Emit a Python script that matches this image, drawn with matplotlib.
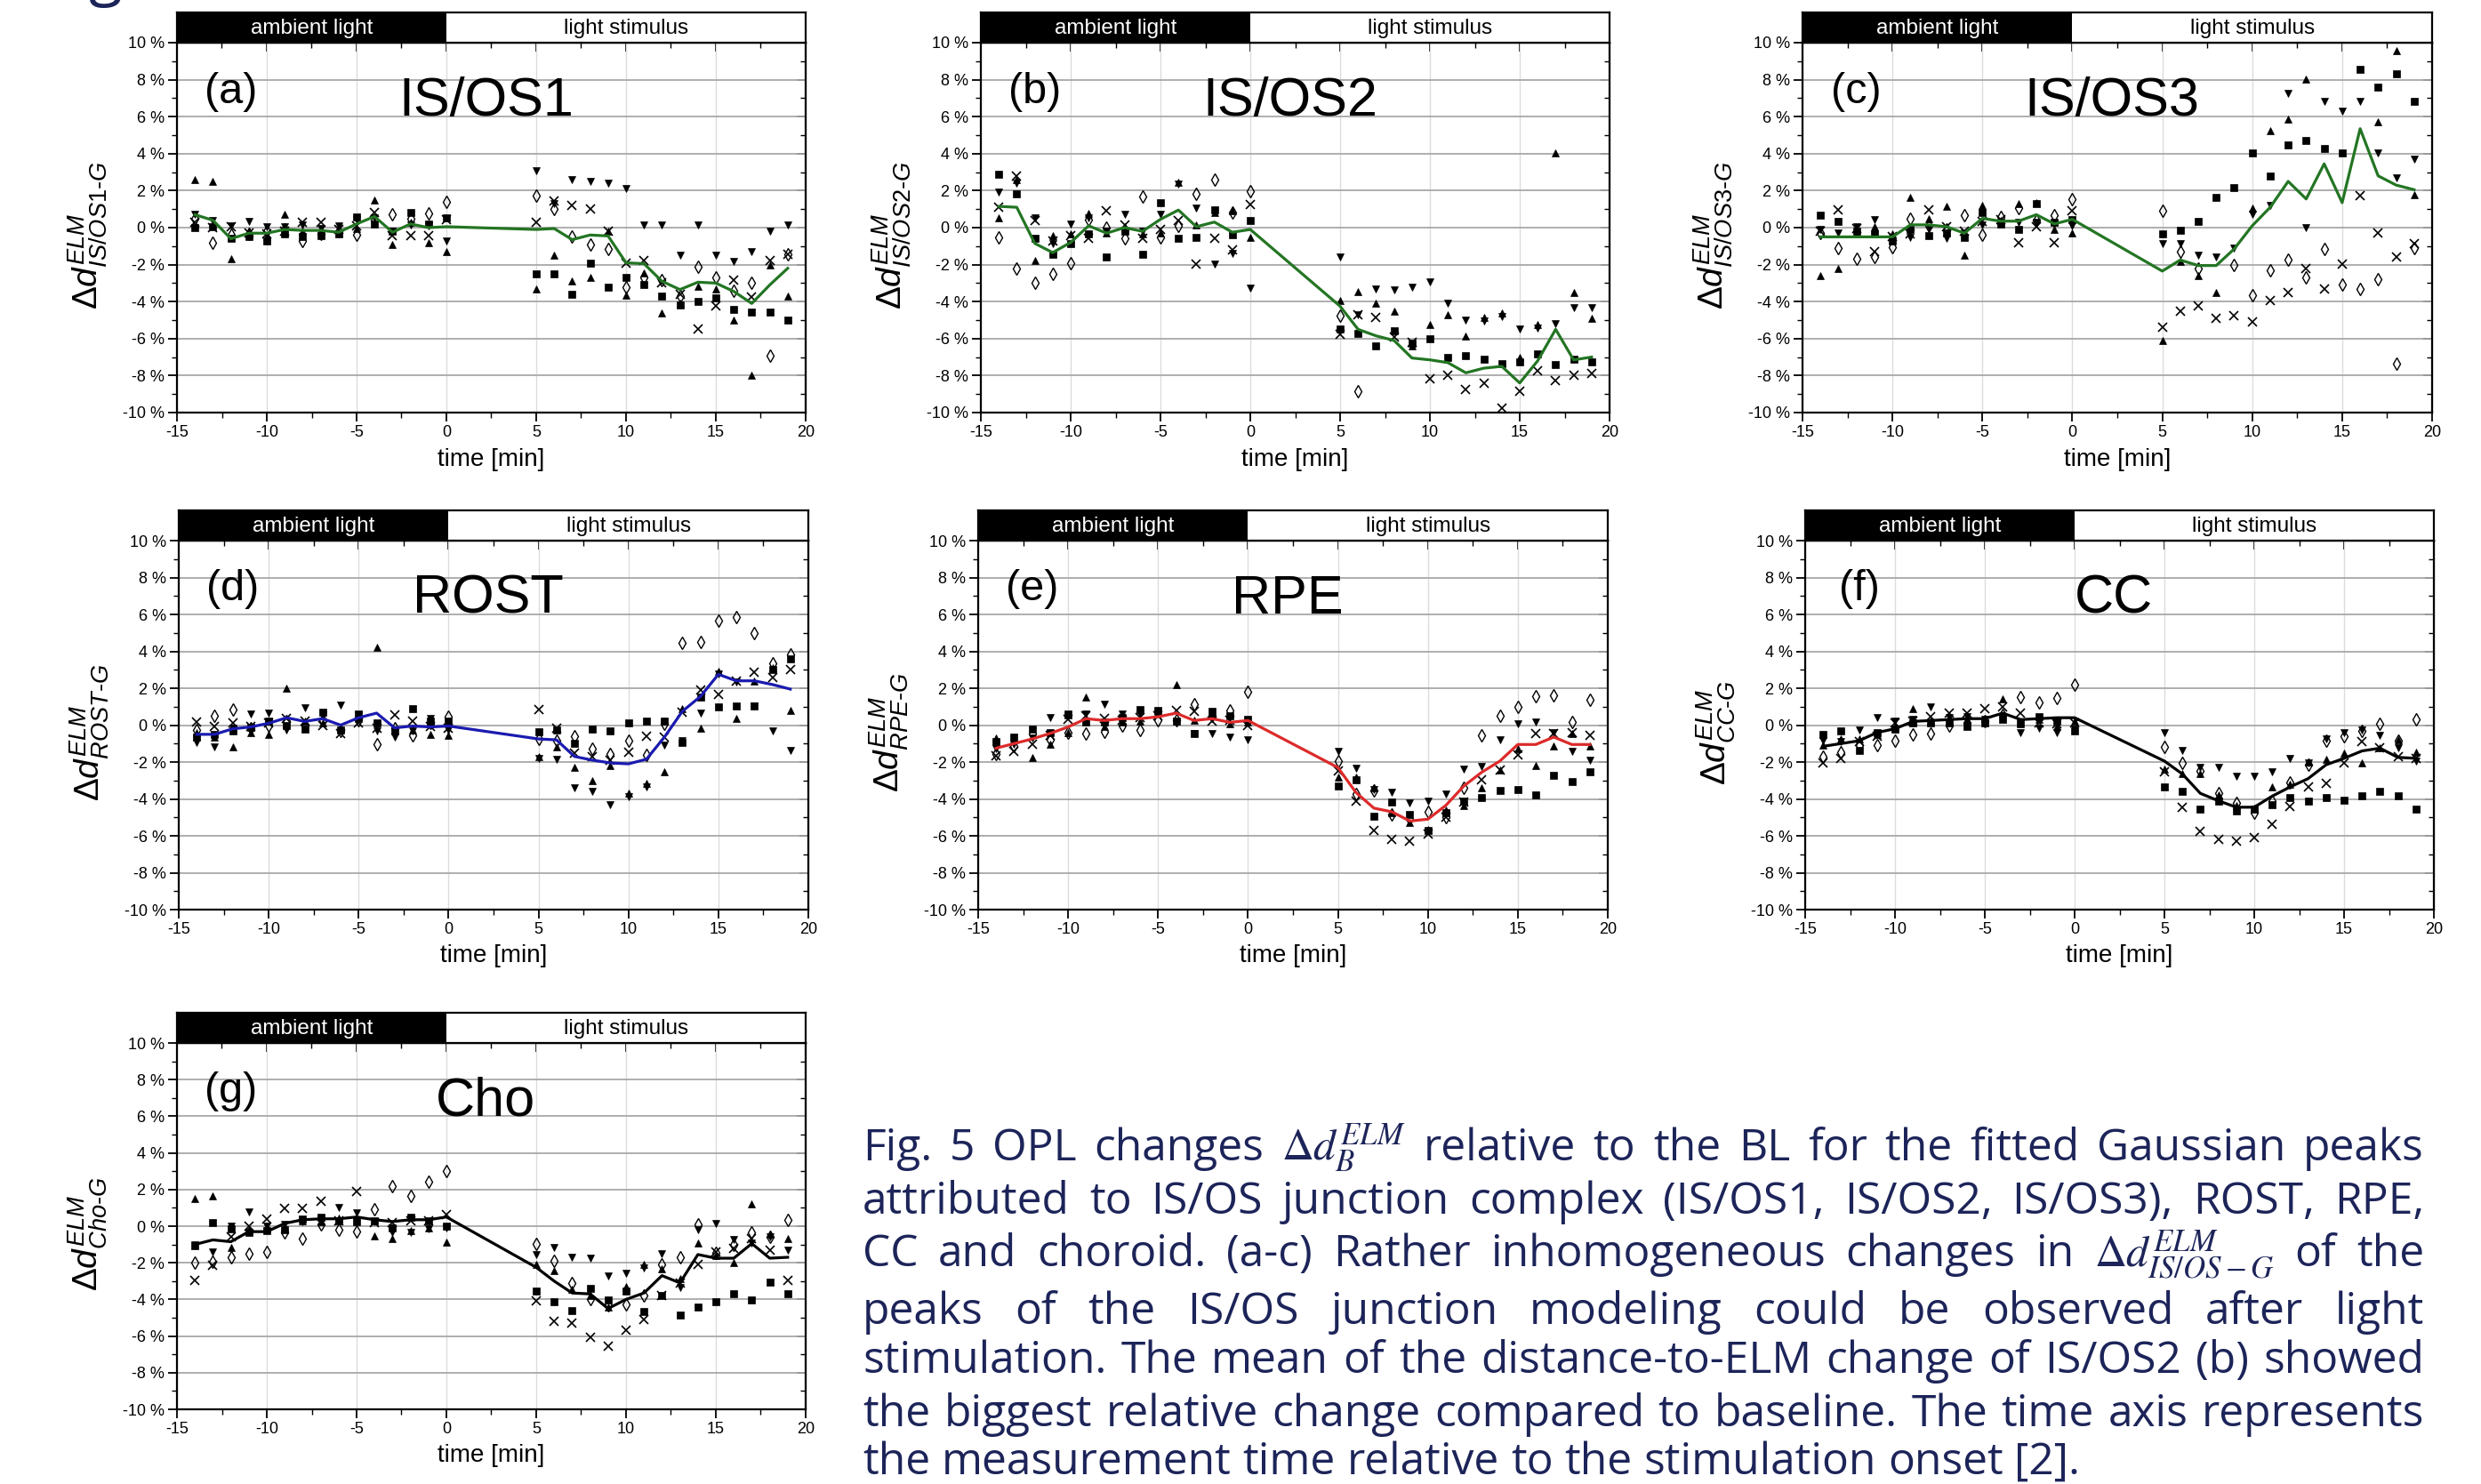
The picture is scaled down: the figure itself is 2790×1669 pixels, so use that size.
import numpy as np
import matplotlib
matplotlib.use("Agg")
import matplotlib.pyplot as plt
from matplotlib.ticker import MultipleLocator

nan = float("nan")

# ---------------- data ----------------
time_min = list(range(-14, 1)) + list(range(5, 20))
x_ticks = [-15, -10, -5, 0, 5, 10, 15, 20]
x_ticklabels = ["-15", "-10", "-5", "0", "5", "10", "15", "20"]
y_ticks = [-10, -8, -6, -4, -2, 0, 2, 4, 6, 8, 10]
y_ticklabels = [f"{v} %" for v in y_ticks]
phase_edges = [-15, 0, 20]
phase_labels = ["ambient light", "light stimulus"]

panel_letters = ["(a)", "(b)", "(c)", "(d)", "(e)", "(f)", "(g)"]
layer_names = ["IS/OS1", "IS/OS2", "IS/OS3", "ROST", "RPE", "CC", "Cho"]
layer_subs = ["IS/OS1", "IS/OS2", "IS/OS3", "ROST", "RPE", "CC", "Cho"]
mean_colors = ["#237523", "#237523", "#237523", "#1a1ab0", "#dd2a2a", "#000000", "#000000"]

# (a) IS/OS1
isos1_square = [0, 0.05, -0.6, -0.5, -0.7, -0.35, -0.5, -0.45, -0.35, 0.6, 0.2, -0.2, 0.8, 0.2, 0.55,
                -2.5, -2.5, -3.6, -1.9, -3.2, -2.7, -3.1, -3.7, -4.2, -4.0, -3.8, -4.4, -4.55, -4.55, -5.0]
isos1_up = [2.6, 2.5, -1.7, -0.2, -0.5, 0.7, -0.2, -0.2, -0.3, -0.05, 1.5, -0.9, 0.3, -0.8, -1.3,
            -3.3, -1.5, -2.9, -2.7, -0.2, -3.65, -2.45, -4.6, -4.1, -3.15, -3.3, -5.0, -8.0, -2.0, -3.7]
isos1_down = [0.7, 0.4, 0.1, 0.35, 0.05, 0.05, 0.15, -0.05, 0.1, 0.45, 0.55, -0.2, 0.15, 0.1, -0.7,
              3.1, 1.3, 2.6, 2.5, 2.4, 2.1, 0.15, 0.15, -1.5, 0.15, -1.5, -1.85, -1.3, -0.2, 0.15]
isos1_diamond = [0.5, -0.8, -0.4, -0.35, -0.2, -0.1, -0.7, -0.35, -0.2, -0.4, 0.4, 0.7, 0.5, 0.75, 1.4,
                 1.75, 1.0, -0.5, -0.9, -1.15, -3.2, -2.7, -2.85, -3.7, -2.1, -2.7, -3.4, -3.0, -6.9, -1.45]
isos1_cross = [0.3, 0.0, 0.05, -0.3, -0.35, -0.2, 0.3, 0.3, -0.1, 0.1, 0.8, -0.45, -0.45, -0.45, 0.45,
               0.3, 1.45, 1.2, 1.0, -0.2, -1.9, -1.8, -3.0, -3.6, -5.5, -4.25, -2.85, -3.75, -1.8, -1.45]
isos1_mean = [0.7, 0.4, -0.6, -0.3, -0.3, -0.1, -0.15, -0.15, -0.25, 0.2, 0.6, -0.25, 0.2, 0.0, 0.05,
              -0.1, -0.05, -0.65, -0.4, -0.45, -1.9, -1.95, -2.9, -3.35, -2.95, -3.0, -3.45, -4.1, -3.1, -2.2]

# (b) IS/OS2
isos2_square = [2.9, 1.85, -0.6, -1.45, -0.85, -0.35, -1.6, -0.2, -1.45, 1.35, -0.6, -0.55, 0.95, -0.4, 0.4,
                -5.5, -5.7, -6.4, -5.6, -6.25, -6.0, -7.0, -6.9, -7.1, -7.35, -7.25, -6.85, -7.4, -7.1, -7.25]
isos2_up = [0.55, 2.6, -1.8, -0.45, -0.35, 0.75, -0.3, 0.05, -0.35, -0.3, 2.45, 0.15, 0.8, 0.9, -0.55,
            -3.95, -3.45, -4.1, -4.5, -6.4, -5.25, -4.7, -5.85, -4.85, -4.6, -7.0, -5.25, 4.05, -3.5, -4.9]
isos2_down = [1.9, 2.4, 0.55, -0.85, 0.2, 0.55, -0.2, 0.7, -0.2, 0.7, 2.35, 1.05, -1.95, -1.4, -3.25,
              -1.6, -4.7, -3.3, -3.35, -3.2, -2.95, -4.1, -5.0, -5.05, -4.8, -5.5, -5.45, -5.2, -4.35, -4.35]
isos2_diamond = [-0.55, -2.2, -3.0, -2.5, -1.9, 0.45, 0.0, -0.6, 1.7, -0.55, 0.1, 1.85, 2.6, 0.8, 1.95,
                 -4.75, -8.85, nan, nan, nan, nan, nan, nan, nan, nan, nan, nan, nan, nan, nan]
isos2_cross = [1.1, 2.8, 0.4, -0.7, -0.45, -0.6, 0.9, 0.15, -0.6, -0.1, 0.4, -1.95, -0.6, -1.2, 1.25,
               -5.75, -4.7, -4.85, -5.9, -6.2, -8.15, -8.0, -8.75, -8.4, -9.75, -8.85, -7.75, -8.25, -8.0, -7.9]
isos2_mean = [1.15, 1.1, -0.85, -1.35, -0.8, 0.1, -0.3, 0.0, -0.2, 0.45, 0.95, 0.05, 0.3, -0.25, -0.1,
              -4.25, -5.5, -5.85, -6.1, -7.05, -7.15, -7.3, -7.85, -7.6, -7.5, -8.4, -7.2, -5.5, -7.15, -7.0]

# (c) IS/OS3
isos3_square = [0.65, 0.35, -0.2, -0.35, -0.7, -0.1, -0.45, -0.3, -0.55, 0.8, 0.2, -0.1, 1.3, 0.3, 0.45,
                -0.35, -0.15, 0.35, 1.65, 2.15, 4.05, 2.8, 4.45, 4.7, 4.3, 4.05, 8.55, 7.6, 8.3, 6.85]
isos3_up = [-2.6, -2.2, -0.35, 0.05, -0.35, 1.65, 0.5, 1.15, -1.5, 1.2, 0.4, 1.3, 1.35, -0.1, -0.3,
            -6.1, -1.85, -2.6, -3.5, nan, 1.05, 5.25, 5.85, 8.05, nan, nan, nan, 5.7, 9.55, 1.8]
isos3_down = [-0.1, -0.3, 0.05, 0.45, -0.55, -0.55, 0.0, -0.6, -0.3, 0.15, 0.3, 0.3, 0.3, 0.2, 0.1,
              -0.85, -0.85, -1.5, -1.6, -1.1, 0.7, 1.2, 7.25, 0.0, 6.85, 6.3, 6.85, 4.05, 2.7, 3.7]
isos3_diamond = [-0.3, -1.1, -1.7, -1.6, -1.05, 0.5, 0.1, -0.1, 0.65, -0.4, 0.6, 1.05, 0.4, 0.65, 1.55,
                 0.9, -1.3, -2.2, nan, -2.0, -3.65, -2.3, -1.75, -2.7, -1.15, -3.1, -3.3, -2.8, -7.35, -1.1]
isos3_cross = [-0.2, 0.95, -0.05, -1.3, -0.5, -0.35, 0.95, 0.05, -0.2, 0.35, 0.45, -0.8, 0.05, -0.8, 0.9,
               -5.4, -4.5, -4.25, -4.9, -4.75, -5.1, -3.95, -3.5, -2.2, -3.3, -1.95, 1.75, -0.3, -1.6, -0.85]
isos3_mean = [-0.5, -0.5, -0.5, -0.5, -0.5, 0.15, 0.15, 0.05, -0.3, 0.5, 0.35, 0.35, 0.7, 0.2, 0.45,
              -2.35, -1.75, -2.05, -2.05, -1.15, 0.1, 1.1, 2.5, 1.55, 3.45, 1.35, 5.35, 2.8, 2.3, 2.05]

# (d) ROST
rost_square = [-0.65, -0.5, -0.3, -0.1, 0.2, 0.0, -0.2, 0.7, -0.25, 0.6, 0.1, -0.3, 0.9, 0.2, 0.2,
               -0.35, -0.25, -1.0, -0.2, -0.3, 0.1, 0.2, 0.2, -0.95, 1.5, 1.0, 1.05, 1.05, 3.0, 3.6]
rost_up = [-0.4, -0.65, -1.2, -0.4, -0.5, 2.0, 0.2, 0.1, -0.1, 0.35, 4.2, -0.25, -0.25, -0.5, -0.55,
           -1.7, -1.2, -2.3, -3.0, -2.2, -3.7, -3.15, -2.55, 0.9, -0.15, 2.9, 0.35, 2.4, 3.1, 0.8]
rost_down = [-0.95, -1.2, -0.15, 0.6, 0.65, -0.25, 0.95, 0.55, 1.1, 0.55, -0.3, -0.65, -0.3, 0.35, -0.25,
             -1.8, -1.85, -3.4, -3.6, -4.3, -3.9, -3.35, -1.1, -0.85, 0.65, 2.75, 2.35, 1.05, -0.3, -1.35]
rost_diamond = [-0.25, 0.5, 0.85, -0.15, 0.0, 0.2, 0.0, 0.25, -0.3, 0.25, -1.05, -0.15, -0.55, 0.1, 0.45,
                -0.75, -0.85, -0.6, -1.3, -1.55, -0.85, -1.6, 0.05, 4.45, 4.5, 5.65, 5.85, 5.0, 3.35, 3.85]
rost_cross = [0.15, -0.05, 0.1, -0.05, 0.1, 0.35, 0.2, 0.0, -0.45, 0.1, -0.15, 0.55, 0.2, -0.05, -0.15,
              0.85, -0.15, -1.5, -1.7, -1.9, -1.45, -0.6, -0.65, 0.7, 1.9, 1.65, 2.4, 2.85, 2.6, 3.0]
rost_mean = [-0.5, -0.5, -0.2, -0.1, 0.1, 0.4, 0.2, 0.35, 0.0, 0.4, 0.65, -0.15, -0.05, -0.1, -0.05,
             -0.75, -0.8, -1.7, -1.9, -2.05, -2.1, -1.85, -0.65, 0.75, 1.55, 2.75, 2.4, 2.4, 2.2, 1.95]

# (e) RPE
rpe_square = [-0.9, -0.65, -0.2, -0.4, 0.55, 0.15, 0.15, 0.4, 0.85, 0.8, 0.2, -0.45, 0.75, 0.5, 0.3,
              -3.3, -2.95, -4.95, -4.15, -4.85, -5.7, -4.75, -4.1, -3.95, -3.55, -3.5, -3.8, -2.7, -3.05, -2.55]
rpe_up = [-0.7, -0.8, -1.75, -1.05, -0.4, 1.5, -0.05, 0.15, 0.2, 0.75, 2.2, 0.25, 0.6, 0.05, 0.15,
          -2.8, -2.8, -3.4, -4.75, -5.3, -5.65, -4.6, -4.35, -3.4, -2.45, -1.3, -2.2, -1.15, -0.45, -1.15]
rpe_down = [-1.3, -1.05, -0.7, 0.4, 0.6, 0.6, 1.15, 0.6, 0.6, 0.65, 0.15, -0.45, -0.45, -0.65, -0.8,
            -1.4, -2.35, -3.5, -3.65, -4.2, -4.1, -3.75, -2.4, -2.25, -0.8, 0.05, 0.15, -0.4, -1.4, -1.9]
rpe_diamond = [-1.55, -1.15, -0.45, -0.8, -0.4, -0.45, -0.35, 0.0, -0.25, 0.25, 0.25, 1.15, 0.5, 0.8, 1.8,
               -1.95, -3.75, -3.55, -4.85, -5.1, -4.7, -5.0, -3.4, -0.55, 0.5, 1.0, 1.55, 1.6, 0.15, 1.35]
rpe_cross = [-1.65, -1.4, -1.05, -0.55, 0.3, 0.5, 0.35, 0.25, 0.4, 0.5, 0.8, 0.75, 0.2, 0.25, 0.0,
             -2.5, -4.1, -5.7, -6.2, -6.3, -5.9, -5.0, -4.15, -2.95, -2.45, -1.6, -0.45, -0.45, -0.4, -0.55]
rpe_mean = [-1.25, -1.0, -0.75, -0.45, -0.1, 0.35, 0.25, 0.35, 0.35, 0.45, 0.65, 0.25, 0.35, 0.15, 0.25,
            -2.3, -3.65, -4.5, -4.7, -5.2, -5.1, -4.35, -3.3, -2.55, -1.95, -1.05, -1.05, -0.65, -1.05, -1.05]

# (f) CC
cc_square = [-0.5, -0.3, -1.35, -0.4, -0.2, 0.1, 0.1, 0.1, -0.05, 0.1, 0.3, 0.1, 0.45, 0.2, -0.3,
             -3.35, -3.6, -4.55, -4.1, -4.65, -4.55, -4.3, -3.95, -4.1, -3.95, -4.05, -3.85, -3.6, -3.85, -4.55]
cc_up = [-1.1, -0.75, -0.75, -0.5, -0.05, 0.9, 0.2, 0.2, 0.3, 0.35, 1.4, 0.05, 0.3, -0.05, 0.2,
         -2.4, -2.65, -2.65, -3.8, -4.35, -4.5, -3.35, -3.2, -2.0, -1.85, -1.5, -2.05, -1.25, -0.8, -1.45]
cc_down = [-0.85, -0.9, -0.25, 0.4, 0.2, 0.3, 1.0, 0.4, 0.45, 0.3, 0.45, -0.4, -0.15, -0.4, -0.2,
           -0.4, -1.35, -2.3, -2.3, -2.75, -2.75, -2.55, -1.8, -2.05, -0.75, -0.4, -0.25, -0.55, -1.25, -1.95]
cc_diamond = [-1.7, -1.45, -1.1, -1.1, -0.85, -0.5, -0.45, 0.0, 0.1, 0.2, 0.55, 1.5, 1.25, 1.45, 2.2,
              -1.2, -2.05, -2.5, -3.7, -4.2, -4.75, -4.1, -3.1, -2.15, -0.85, -0.6, -0.3, 0.05, -0.85, 0.3]
cc_cross = [-2.05, -1.8, -0.9, -0.6, 0.1, 0.2, 0.45, 0.65, 0.65, 0.9, 1.0, 0.65, 0.1, 0.05, 0.1,
            -2.55, -4.45, -5.75, -6.2, -6.3, -6.1, -5.35, -4.4, -3.35, -3.15, -2.05, -0.9, -1.25, -1.7, -1.8]
cc_mean = [-1.15, -1.0, -0.85, -0.4, -0.2, 0.2, 0.25, 0.3, 0.35, 0.35, 0.65, 0.3, 0.35, 0.4, 0.4,
           -1.95, -2.65, -3.7, -4.1, -4.45, -4.45, -3.85, -3.35, -2.9, -2.15, -1.8, -1.4, -1.25, -1.75, -1.8]

# (g) Cho
cho_square = [-1.05, 0.2, -0.15, -0.35, -0.25, -0.2, 0.4, 0.5, 0.3, 0.3, 0.3, -0.1, 0.5, 0.3, 0.0,
              -3.55, -4.15, -4.6, -3.4, -4.05, -3.55, -4.65, -3.8, -4.85, -4.4, -4.15, -3.7, -4.05, -3.05, -3.7]
cho_up = [1.5, 1.65, -1.15, -0.2, -0.1, -0.05, 0.3, 0.25, 0.45, 0.25, -0.55, -0.7, -0.25, -0.1, -0.85,
          -2.1, -2.45, -3.45, -3.8, -4.4, -3.3, -2.1, -2.35, -2.85, -0.9, -1.6, -2.0, 1.2, -0.45, -0.7]
cho_down = [-1.0, -1.4, 0.0, 0.8, 0.0, 0.1, 0.25, 0.4, 1.0, 0.75, 0.25, -0.35, -0.35, -0.15, -0.1,
            -1.55, -1.15, -1.7, -1.75, -2.7, -2.55, -2.3, -1.5, -3.35, -0.2, 0.15, -0.75, -0.9, -0.6, -1.3]
cho_diamond = [-2.0, -1.95, -1.7, -1.5, -1.4, -0.35, -0.7, 0.1, -0.2, -0.3, 0.9, 2.2, 1.65, 2.45, 3.0,
               -0.95, -1.9, -3.1, -4.0, -4.3, -4.25, -3.8, -2.1, -1.7, 0.1, -1.45, -1.0, -0.35, -0.6, 0.35]
cho_cross = [-2.95, -2.15, -0.6, 0.0, 0.4, 0.95, 0.95, 1.35, 0.3, 1.9, 0.2, 0.2, 0.3, 0.3, 0.65,
             -4.1, -5.2, -5.3, -6.05, -6.55, -5.7, -5.1, -3.8, -3.1, -2.1, -1.4, -1.2, -0.7, -1.3, -2.95]
cho_mean = [-1.0, -0.75, -0.85, -0.3, -0.3, 0.15, 0.35, 0.4, 0.4, 0.5, 0.35, 0.25, 0.35, 0.35, 0.5,
            -2.25, -3.0, -3.65, -3.7, -4.5, -4.0, -3.65, -2.7, -3.1, -1.55, -1.75, -1.75, -0.95, -1.75, -1.7]

caption_lines = [
    r"Fig. 5 OPL changes  $\Delta d_{B}^{ELM}$ relative to the BL for the fitted Gaussian peaks",
    "attributed to IS/OS junction complex (IS/OS1, IS/OS2, IS/OS3), ROST, RPE,",
    r"CC and choroid. (a-c) Rather inhomogeneous changes in $\Delta d_{IS/OS-G}^{ELM}$ of the",
    "peaks of the IS/OS junction modeling could be observed after light",
    "stimulation. The mean of the distance-to-ELM change of IS/OS2 (b) showed",
    "the biggest relative change compared to baseline. The time axis represents",
    "the measurement time relative to the stimulation onset [2].",
]

# -------------- table built from the arrays --------------
panel_series = [
    (isos1_square, isos1_up, isos1_down, isos1_diamond, isos1_cross, isos1_mean),
    (isos2_square, isos2_up, isos2_down, isos2_diamond, isos2_cross, isos2_mean),
    (isos3_square, isos3_up, isos3_down, isos3_diamond, isos3_cross, isos3_mean),
    (rost_square, rost_up, rost_down, rost_diamond, rost_cross, rost_mean),
    (rpe_square, rpe_up, rpe_down, rpe_diamond, rpe_cross, rpe_mean),
    (cc_square, cc_up, cc_down, cc_diamond, cc_cross, cc_mean),
    (cho_square, cho_up, cho_down, cho_diamond, cho_cross, cho_mean),
]

# -------------- styling / layout --------------
W, H = 2790, 1669
DPI = 100
plt.rcParams["font.family"] = ["Liberation Sans", "DejaVu Sans"]
plt.rcParams["mathtext.fontset"] = "custom"
plt.rcParams["mathtext.rm"] = "Liberation Sans"
plt.rcParams["mathtext.it"] = "Liberation Sans:italic"
plt.rcParams["mathtext.bf"] = "Liberation Sans:bold"
plt.rcParams["mathtext.sf"] = "Liberation Sans"

fig = plt.figure(figsize=(W / DPI, H / DPI), dpi=DPI)
fig.patch.set_facecolor("white")

# pixel boxes (left, right, top, bottom) of the plotting areas
boxes = [
    (199, 906, 48, 464), (1103, 1810, 48, 464), (2027, 2735, 48, 464),
    (201, 909, 608, 1023), (1100, 1808, 608, 1023), (2030, 2737, 608, 1023),
    (199, 906, 1173, 1585),
]
HDR = 34

marker_styles = [
    dict(marker="s", ms=5.2, mfc="black", mec="black", mew=0.5),
    dict(marker="^", ms=6.2, mfc="black", mec="black", mew=0.5),
    dict(marker="v", ms=6.2, mfc="black", mec="black", mew=0.5),
    dict(marker="d", ms=7.0, mfc="none", mec="black", mew=1.0),
    dict(marker="x", ms=6.5, mfc="black", mec="black", mew=1.2),
]

SPINE_LW = 1.6

for i, (l, r, t, b) in enumerate(boxes):
    ax = fig.add_axes([l / W, 1 - b / H, (r - l) / W, (b - t) / H])
    ax.set_xlim(phase_edges[0], phase_edges[-1])
    ax.set_ylim(y_ticks[0], y_ticks[-1])
    series = panel_series[i]
    for s in range(5):
        ax.plot(time_min, series[s], linestyle="none", zorder=3, **marker_styles[s])
    ax.plot(time_min, series[5], color=mean_colors[i], lw=2.3, zorder=4)

    ax.set_xticks(x_ticks)
    ax.set_xticklabels(x_ticklabels)
    ax.set_yticks(y_ticks)
    ax.set_yticklabels(y_ticklabels)
    ax.xaxis.set_minor_locator(MultipleLocator(2.5))
    ax.yaxis.set_minor_locator(MultipleLocator(1))
    ax.tick_params(which="major", direction="out", length=7, width=1.3, labelsize=13, pad=3)
    ax.tick_params(which="minor", direction="out", length=4, width=1.0)
    ax.grid(axis="y", which="major", color="#a8a8a8", lw=1.3, zorder=0)
    ax.grid(axis="x", which="major", color="#dcdcdc", lw=1.0, zorder=0)
    for sp in ax.spines.values():
        sp.set_linewidth(SPINE_LW)

    secx = ax.secondary_xaxis("top")
    secx.set_xticks(x_ticks)
    secx.xaxis.set_minor_locator(MultipleLocator(2.5))
    secx.tick_params(which="major", direction="in", length=7, width=1.3, labeltop=False)
    secx.tick_params(which="minor", direction="in", length=4, width=1.0)
    secy = ax.secondary_yaxis("right")
    secy.set_yticks(y_ticks)
    secy.yaxis.set_minor_locator(MultipleLocator(1))
    secy.tick_params(which="major", direction="in", length=7, width=1.3, labelright=False)
    secy.tick_params(which="minor", direction="in", length=4, width=1.0)

    ax.set_xlabel("time [min]", fontsize=20)
    ax.xaxis.set_label_coords(0.5, -0.095)
    ax.set_ylabel(r"$\Delta d^{ELM}_{%s\text{-}G}$" % layer_subs[i], fontsize=28)
    ax.yaxis.set_label_coords(-0.108, 0.48)

    ax.text(-12.0, 7.35, panel_letters[i], fontsize=35, ha="center", va="center", zorder=5)
    ax.text(2.2, 6.8, layer_names[i], fontsize=44, ha="center", va="center", zorder=5)

    hdr = fig.add_axes([l / W, 1 - t / H, (r - l) / W, HDR / H])
    hdr.set_xlim(phase_edges[0], phase_edges[-1])
    hdr.set_ylim(0, 1)
    hdr.axvspan(phase_edges[0], phase_edges[1], color="black", lw=0)
    hdr.text((phase_edges[0] + phase_edges[1]) / 2, 0.47, phase_labels[0], color="white",
             fontsize=17.5, ha="center", va="center")
    hdr.text((phase_edges[1] + phase_edges[2]) / 2, 0.47, phase_labels[1], color="black",
             fontsize=17.5, ha="center", va="center")
    hdr.set_xticks([])
    hdr.set_yticks([])
    for sp in hdr.spines.values():
        sp.set_linewidth(SPINE_LW)

# fragment of a heading cut at the top edge
NAVY = "#1c2459"
fig.text(100 / W, 1.0 + 8 / H, "g", fontsize=50, color=NAVY, family=["Open Sans", "DejaVu Sans"],
         va="baseline", ha="left")

# -------------- justified caption --------------
renderer = fig.canvas.get_renderer()
cap_left, cap_right = 970, 2726
cap_baselines = [1305, 1365, 1424, 1489, 1544, 1604, 1658]
cap_family = ["Open Sans", "DejaVu Sans"]


def split_words(line):
    words, cur, in_math = [], "", False
    for ch in line:
        if ch == "$":
            in_math = not in_math
            cur += ch
        elif ch == " " and not in_math:
            if cur:
                words.append(cur)
            cur = ""
        else:
            cur += ch
    if cur:
        words.append(cur)
    return words


def cap_kw(size):
    return dict(fontsize=size, color=NAVY, family=cap_family, math_fontfamily="stix",
                va="baseline", ha="left")


def measure(line, size):
    tts = [fig.text(0, 0, w, **cap_kw(size)) for w in split_words(line)]
    ws = [tt.get_window_extent(renderer).width for tt in tts]
    for tt in tts:
        tt.remove()
    return ws


def space_width(size):
    a = fig.text(0, 0, "a a", **cap_kw(size))
    b = fig.text(0, 0, "aa", **cap_kw(size))
    sw = a.get_window_extent(renderer).width - b.get_window_extent(renderer).width
    a.remove()
    b.remove()
    return sw


# font size so that the fullest justified line is just filled
base = 28.0
fill = []
for line in caption_lines[:-1]:
    ws = measure(line, base)
    fill.append((sum(ws) + space_width(base) * (len(ws) - 1)) / (cap_right - cap_left))
cap_size = base / max(fill) * 0.985

sw = space_width(cap_size)
for k, line in enumerate(caption_lines):
    words = split_words(line)
    y = 1 - cap_baselines[k] / H
    texts = [fig.text(0, y, w, **cap_kw(cap_size)) for w in words]
    widths = [tt.get_window_extent(renderer).width for tt in texts]
    last = k == len(caption_lines) - 1
    gap = sw if (last or len(words) < 2) else (cap_right - cap_left - sum(widths)) / (len(words) - 1)
    x = cap_left
    for tt, w in zip(texts, widths):
        tt.set_x(x / W)
        x += w + gap

fig.savefig("out.png", dpi=DPI, facecolor="white")
